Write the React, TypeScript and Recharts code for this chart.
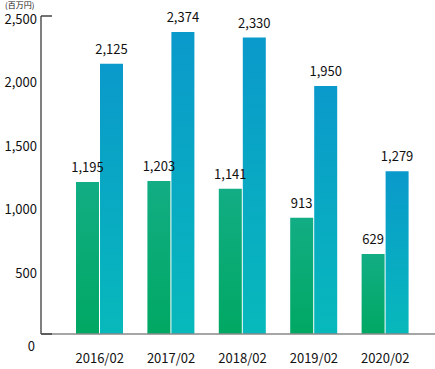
import { BarChart, Bar, XAxis, YAxis, LabelList } from "recharts";

const years = ["2016/02", "2017/02", "2018/02", "2019/02", "2020/02"];
const seriesA = [1195, 1203, 1141, 913, 629];
const seriesB = [2125, 2374, 2330, 1950, 1279];
const yTicks = [0, 500, 1000, 1500, 2000, 2500];

const data = years.map((label, i) => ({ label, a: seriesA[i], b: seriesB[i] }));

const FONT = "'Noto Sans CJK JP', 'Noto Sans', sans-serif";
const fmt = (v: number) => v.toLocaleString("en-US");

function YTick(props: any) {
  const { x, y, payload } = props;
  const v = payload.value as number;
  const isEnd = v === 0 || v === 2500;
  return (
    <g>
      <text
        x={v === 0 ? x - 2 : x}
        y={v === 0 ? y + 11 : y + 2}
        textAnchor="end"
        dominantBaseline="central"
        fontSize={13}
        fill="#111"
        fontFamily={FONT}
      >
        {fmt(v)}
      </text>
      {isEnd && <line x1={x + 4} x2={x + 15} y1={y} y2={y} stroke="#444" strokeWidth={1.5} />}
    </g>
  );
}

export default function App() {
  return (
    <div style={{ position: "absolute", left: 0, top: 0, width: 435, height: 369, background: "#fff" }}>
      <div
        style={{
          position: "absolute",
          left: 5,
          top: 1,
          fontSize: 8,
          lineHeight: "8px",
          fontFamily: FONT,
          color: "#111",
        }}
      >
        (百万円)
      </div>
      <BarChart
        width={435}
        height={369}
        data={data}
        margin={{ top: 16, right: 0, bottom: 0, left: 0 }}
        barGap={1}
        barSize={23}
      >
        <defs>
          <linearGradient id="gA" x1="0" y1="0" x2="0" y2="1">
            <stop offset="0%" stopColor="#12ad84" />
            <stop offset="100%" stopColor="#00a863" />
          </linearGradient>
          <linearGradient id="gB" x1="0" y1="0" x2="0" y2="1">
            <stop offset="0%" stopColor="#0a99cb" />
            <stop offset="100%" stopColor="#07b9bb" />
          </linearGradient>
        </defs>
        <XAxis
          dataKey="label"
          height={35}
          axisLine={{ stroke: "#888", strokeWidth: 1.5 }}
          tickLine={false}
          padding={{ left: 23, right: 14 }}
          tick={{ fontSize: 13, fill: "#111", fontFamily: FONT, dy: 12 }}
        />
        <YAxis
          width={41}
          domain={[0, 2500]}
          ticks={yTicks}
          axisLine={{ stroke: "#555", strokeWidth: 1.5 }}
          tickLine={false}
          tickSize={4}
          tickMargin={0}
          tick={<YTick />}
        />
        <Bar dataKey="a" fill="url(#gA)" isAnimationActive={false}>
          <LabelList
            dataKey="a"
            position="top"
            offset={10}
            formatter={(v: any) => fmt(v)}
            style={{ fontSize: 13, fill: "#111", fontFamily: FONT }}
          />
        </Bar>
        <Bar dataKey="b" fill="url(#gB)" isAnimationActive={false}>
          <LabelList
            dataKey="b"
            position="top"
            offset={10}
            formatter={(v: any) => fmt(v)}
            style={{ fontSize: 13, fill: "#111", fontFamily: FONT }}
          />
        </Bar>
      </BarChart>
    </div>
  );
}
